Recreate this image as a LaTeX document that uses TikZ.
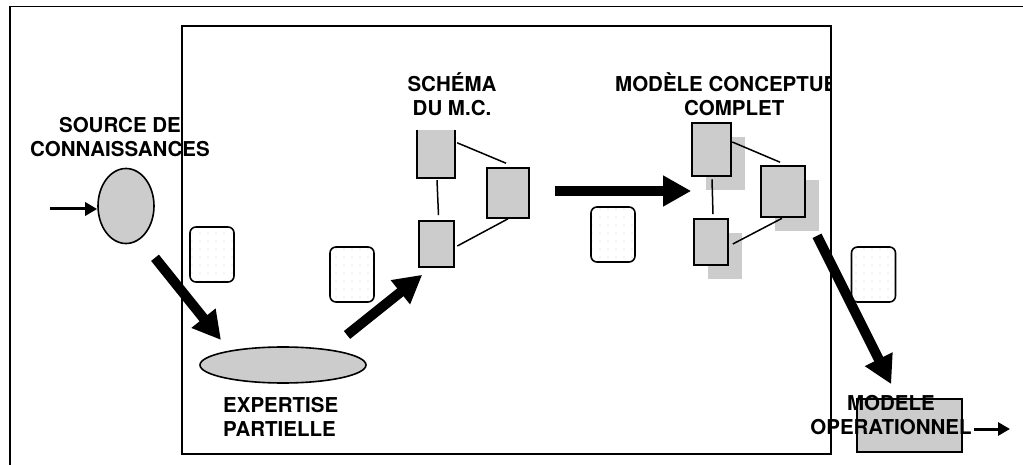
\documentclass[tikz,border=0pt]{standalone}
\usepackage{fontspec}
\setmainfont{TeX Gyre Heros}
\usetikzlibrary{shapes.geometric,arrows.meta,patterns.meta,shadows,calc}
\definecolor{boxgray}{HTML}{CCCCCC}
\definecolor{dotgray}{HTML}{D6D6D6}
\begin{document}
\begin{tikzpicture}[x=1pt,y=-1pt,
  lbl/.style={font=\bfseries\fontsize{20.5}{24}\selectfont, inner sep=0pt},
  gbox/.style={draw, line width=1.6pt, fill=boxgray, inner sep=0pt},
  gfill/.style={fill=boxgray, inner sep=0pt},
  shbox/.style={gbox, general shadow={fill=boxgray, shadow xshift=14pt, shadow yshift=-14pt}},
  oval/.style={ellipse, draw, line width=1.6pt, fill=boxgray, inner sep=0pt},
  notecard/.style={draw, line width=1.6pt, rounded corners=6pt, inner sep=0pt,
    minimum width=44pt, minimum height=55pt, preaction={fill=white},
    pattern={Dots[distance=8pt, radius=0.6pt]}, pattern color=dotgray},
  link/.style={line width=1.5pt},
  bigarrow/.style={line width=10pt, -{Triangle[length=28pt,width=29pt]}},
  smallarrow/.style={line width=3pt, -{Triangle[length=12pt,width=13pt]}}]
\useasboundingbox (0,0) rectangle (1023,465);
% frames
\draw[line width=1.5pt] (1023,6.5) -- (10,6.5) -- (10,465);
\draw[line width=2pt] (182,26) rectangle (831,454);
% notecards
\node[notecard] (n1) at (212,254.5) {};
\node[notecard] (n2) at (352,274.5) {};
\node[notecard] (n3) at (613,234.5) {};
\node[notecard] (n4) at (873.5,274.5) {};
% source and expertise
\node[oval, minimum width=56pt, minimum height=75pt] (src) at (126,206) {};
\node[oval, minimum width=166pt, minimum height=36pt] (exp) at (283,365) {};
% schema boxes
\node[gfill, minimum width=38pt, minimum height=48pt] (A) at (436,154) {};
\draw[line width=1.6pt] (A.north west) -- (A.south west) -- (A.south east) -- (A.north east);
\node[gbox, minimum width=42pt, minimum height=50pt] (B) at (508,193) {};
\node[gbox, minimum width=35pt, minimum height=46pt] (C) at (436.5,244) {};
\draw[link] ($(A.north east)+(2,13)$) -- ($(B.north)+(-2,-4)$);
\draw[link] ($(A.south)+(1,2)$) -- ($(C.north)+(2,-5)$);
\draw[link] ($(C.east)+(2.5,2)$) -- (B.south);
% complete model boxes
\node[shbox, minimum width=39pt, minimum height=53pt] (D) at (711.5,149.5) {};
\node[shbox, minimum width=44pt, minimum height=51pt] (E) at (783,191.5) {};
\node[shbox, minimum width=34pt, minimum height=46pt] (F) at (711,242) {};
\draw[link] ($(D.east)+(0.5,-7.5)$) -- ($(E.north)+(-3,-3)$);
\draw[link] ($(D.south)+(0.5,2.5)$) -- ($(F.north)+(2,-4)$);
\draw[link] ($(F.east)+(4,2)$) -- ($(E.south)+(-1,0.5)$);
% operational box
\node[gbox, minimum width=105pt, minimum height=53pt] (G) at (909.5,425.5) {};
% labels
\node[lbl, align=center, anchor=south] (srclbl) at (120,157) {SOURCE DE\\CONNAISSANCES};
\node[lbl, align=left, anchor=south west] (explbl) at (223,437) {EXPERTISE\\PARTIELLE};
\node[lbl, align=center, anchor=south] (schlbl) at (452,116) {SCHÉMA\\DU M.C.};
\begin{scope}
\clip (0,0) rectangle (830,465);
\node[lbl, align=left, anchor=south west] (mclbl) at (615,116) {MODÈLE CONCEPTUEL\\\hspace*{69pt}COMPLET};
\end{scope}
\node[lbl, align=center, anchor=south] (oplbl) at (891,435) {MODELE\\OPERATIONNEL};
% arrows
\coordinate (in) at (50,209);
\coordinate (out) at (1010,429);
\draw[smallarrow] (in) -- (in -| src.west);
\draw[smallarrow] ($(oplbl.south east)+(2,-6)$) -- (out);
\draw[bigarrow] ($(src.south)+(29,13.5)$) -- ($(exp.center)+(-62,-25)$);
\draw[bigarrow] ($(exp.center)+(64,-30)$) -- ($(C.south west)+(4,7)$);
\draw[bigarrow] ($(B.east)+(25,-2)$) -- ($(D.west)+(0,41.5)$);
\draw[bigarrow] ($(E.south)+(34,18)$) -- ($(G.north west)+(35,-14)$);
\end{tikzpicture}
\end{document}
